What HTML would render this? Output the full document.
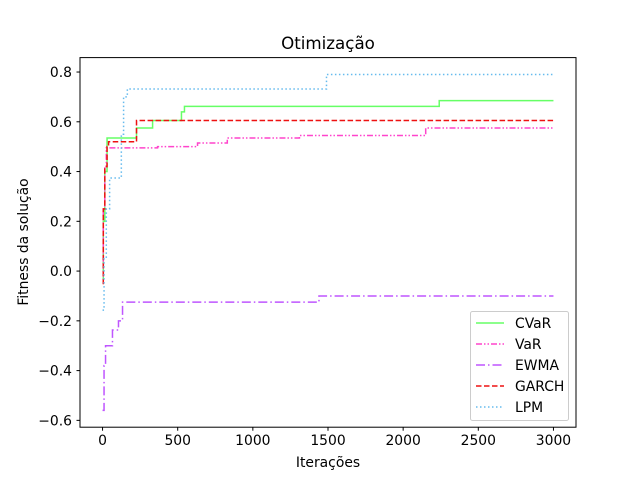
<!DOCTYPE html>
<html><head><meta charset="utf-8"><style>
body{margin:0;background:#fff;}
svg text{font-family:"DejaVu Sans","Liberation Sans",sans-serif;}
</style></head><body>
<svg id="chart" width="640" height="480" xmlns="http://www.w3.org/2000/svg">
<rect width="640" height="480" fill="#fff"/>
<text x="328" y="49" font-size="16.7" text-anchor="middle">Otimização</text>
<g id="plot"></g>
<rect x="80" y="57.6" width="496" height="369.6" fill="none" stroke="#000" stroke-width="1"/>
<g id="axes"></g>
<text x="328" y="467" font-size="13.9" text-anchor="middle">Iterações</text>
<text transform="translate(28,242) rotate(-90)" font-size="13.9" text-anchor="middle">Fitness da solução</text>
<g id="legend"></g>
</svg>
<script>
const seriesNames = ["CVaR","VaR","EWMA","GARCH","LPM"];
const cvarX = [0,5,15,30,226,333,525,545,2240,3000];
const cvarY = [-0.03,0.2,0.4,0.535,0.575,0.605,0.64,0.662,0.685,0.685];
const varX = [0,5,15,25,366,632,830,1310,2150,3000];
const varY = [-0.02,0.25,0.42,0.495,0.50,0.515,0.535,0.545,0.575,0.575];
const ewmaX = [0,10,20,66,106,133,1440,3000];
const ewmaY = [-0.56,-0.38,-0.30,-0.237,-0.20,-0.125,-0.10,-0.10];
const garchX = [0,5,15,30,40,226,3000];
const garchY = [-0.05,0.25,0.42,0.50,0.52,0.605,0.605];
const lpmX = [0,10,25,47,125,140,165,1490,3000];
const lpmY = [-0.157,0.05,0.25,0.374,0.55,0.70,0.732,0.79,0.79];
const xTicks = [0,500,1000,1500,2000,2500,3000];
const yTicks = [-0.6,-0.4,-0.2,0.0,0.2,0.4,0.6,0.8];
const xs = v => 80 + (v + 150) / 3300 * 496;
const ys = v => 427.2 - (v + 0.6275) / 1.4855 * 369.6;
const NS = "http://www.w3.org/2000/svg";
const plot = document.getElementById('plot');
const axes = document.getElementById('axes');
const leg = document.getElementById('legend');
const styles = [
 {c:"#66ff66",d:""},
 {c:"#ff44cc",d:"6,2,1.5,2,1.5,2"},
 {c:"#bf55ff",d:"9,3,1.5,3"},
 {c:"#ee1111",d:"5.5,2.5"},
 {c:"#66bbee",d:"1.5,2.5"}
];
const data = [[cvarX,cvarY],[varX,varY],[ewmaX,ewmaY],[garchX,garchY],[lpmX,lpmY]];
data.forEach((s,i)=>{
  let d = "M"+xs(s[0][0])+","+ys(s[1][0]);
  for(let k=1;k<s[0].length;k++){
    d += " L"+xs(s[0][k])+","+ys(s[1][k-1])+" L"+xs(s[0][k])+","+ys(s[1][k]);
  }
  const p = document.createElementNS(NS,'path');
  p.setAttribute('d',d);
  p.setAttribute('fill','none');
  p.setAttribute('stroke',styles[i].c);
  p.setAttribute('stroke-width','1.5');
  if(styles[i].d) p.setAttribute('stroke-dasharray',styles[i].d);
  
  
  plot.appendChild(p);
});
xTicks.forEach(t=>{
  const l = document.createElementNS(NS,'line');
  l.setAttribute('x1',xs(t));l.setAttribute('x2',xs(t));
  l.setAttribute('y1',427.2);l.setAttribute('y2',430.7);
  l.setAttribute('stroke','#000');
  
  
  axes.appendChild(l);
  const tx = document.createElementNS(NS,'text');
  tx.setAttribute('x',xs(t));tx.setAttribute('y',445);
  tx.setAttribute('font-size','13.9');tx.setAttribute('text-anchor','middle');
  tx.textContent = t;
  
  
  axes.appendChild(tx);
});
yTicks.forEach(t=>{
  const l = document.createElementNS(NS,'line');
  l.setAttribute('x1',76.5);l.setAttribute('x2',80);
  l.setAttribute('y1',ys(t));l.setAttribute('y2',ys(t));
  l.setAttribute('stroke','#000');
  
  
  axes.appendChild(l);
  const tx = document.createElementNS(NS,'text');
  tx.setAttribute('x',72);tx.setAttribute('y',ys(t)+5);
  tx.setAttribute('font-size','13.9');tx.setAttribute('text-anchor','end');
  tx.textContent = (t<0?"\u2212":"")+Math.abs(t).toFixed(1);
  
  
  axes.appendChild(tx);
});
const box = document.createElementNS(NS,'rect');
box.setAttribute('x',470.5);box.setAttribute('y',311.5);
box.setAttribute('width',98);box.setAttribute('height',109);
box.setAttribute('rx',2);box.setAttribute('fill','#fff');
box.setAttribute('stroke','#ccc');


leg.appendChild(box);
seriesNames.forEach((n,i)=>{
  const y = 323 + i*21;
  const l = document.createElementNS(NS,'line');
  l.setAttribute('x1',476);l.setAttribute('x2',504);
  l.setAttribute('y1',y);l.setAttribute('y2',y);
  l.setAttribute('stroke',styles[i].c);l.setAttribute('stroke-width','1.5');
  if(styles[i].d) l.setAttribute('stroke-dasharray',styles[i].d);
  
  
  leg.appendChild(l);
  const tx = document.createElementNS(NS,'text');
  tx.setAttribute('x',515);tx.setAttribute('y',y+5);
  tx.setAttribute('font-size','13.9');
  tx.textContent = n;
  
  
  leg.appendChild(tx);
});
</script>
</body></html>
